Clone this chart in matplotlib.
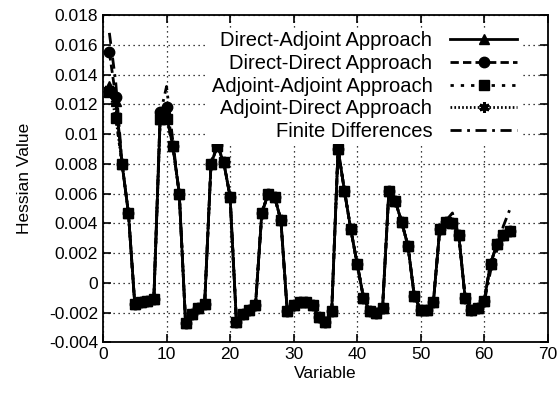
import numpy as np
import matplotlib
matplotlib.use('Agg')
import matplotlib.pyplot as plt
from matplotlib.ticker import FixedLocator, FixedFormatter

plt.rcParams['font.family'] = ['Liberation Sans', 'DejaVu Sans']
plt.rcParams['font.size'] = 12.5

variables = np.arange(1, 65)

direct_adjoint = [
    0.0132, 0.0122, 0.0080, 0.0047, -0.0014, -0.0013, -0.0012, -0.0011,
    0.0110, 0.0112, 0.0092, 0.0060, -0.0027, -0.0021, -0.0017, -0.0014,
    0.0080, 0.0092, 0.0081, 0.0058, -0.0026, -0.0021, -0.0018, -0.0015,
    0.0047, 0.0060, 0.0058, 0.0042, -0.0019, -0.0015, -0.0013, -0.0013,
    -0.0015, -0.0023, -0.0026, -0.0019, 0.0090, 0.0062, 0.0036, 0.0013,
    -0.0010, -0.0019, -0.0020, -0.0017, 0.0062, 0.0055, 0.0041, 0.0025,
    -0.0009, -0.0018, -0.0018, -0.0013, 0.0036, 0.0041, 0.0040, 0.0032,
    -0.0010, -0.0018, -0.0017, -0.0012, 0.0013, 0.0026, 0.0032, 0.0035]

direct_direct = [
    0.0155, 0.0125, 0.0080, 0.0047, -0.0014, -0.0013, -0.0012, -0.0011,
    0.0115, 0.0118, 0.0092, 0.0060, -0.0027, -0.0021, -0.0017, -0.0014,
    0.0080, 0.0093, 0.0081, 0.0058, -0.0026, -0.0021, -0.0018, -0.0015,
    0.0047, 0.0060, 0.0058, 0.0042, -0.0019, -0.0015, -0.0013, -0.0013,
    -0.0015, -0.0023, -0.0026, -0.0019, 0.0090, 0.0062, 0.0036, 0.0013,
    -0.0010, -0.0019, -0.0020, -0.0017, 0.0062, 0.0055, 0.0041, 0.0025,
    -0.0009, -0.0018, -0.0018, -0.0013, 0.0036, 0.0041, 0.0040, 0.0032,
    -0.0010, -0.0018, -0.0017, -0.0012, 0.0013, 0.0026, 0.0032, 0.0035]

adjoint_adjoint = [
    0.0128, 0.0111, 0.0080, 0.0047, -0.0014, -0.0013, -0.0012, -0.0011,
    0.0110, 0.0110, 0.0092, 0.0060, -0.0027, -0.0021, -0.0017, -0.0014,
    0.0080, 0.0092, 0.0081, 0.0058, -0.0026, -0.0021, -0.0018, -0.0015,
    0.0047, 0.0060, 0.0058, 0.0042, -0.0019, -0.0015, -0.0013, -0.0013,
    -0.0015, -0.0023, -0.0026, -0.0019, 0.0090, 0.0062, 0.0036, 0.0013,
    -0.0010, -0.0019, -0.0020, -0.0017, 0.0062, 0.0055, 0.0041, 0.0025,
    -0.0009, -0.0018, -0.0018, -0.0013, 0.0036, 0.0041, 0.0040, 0.0032,
    -0.0010, -0.0018, -0.0017, -0.0012, 0.0013, 0.0026, 0.0032, 0.0035]

adjoint_direct = [
    0.0130, 0.0112, 0.0080, 0.0047, -0.0014, -0.0013, -0.0012, -0.0011,
    0.0110, 0.0111, 0.0092, 0.0060, -0.0027, -0.0021, -0.0017, -0.0014,
    0.0080, 0.0092, 0.0081, 0.0058, -0.0026, -0.0021, -0.0018, -0.0015,
    0.0047, 0.0060, 0.0058, 0.0042, -0.0019, -0.0015, -0.0013, -0.0013,
    -0.0015, -0.0023, -0.0026, -0.0019, 0.0090, 0.0062, 0.0036, 0.0013,
    -0.0010, -0.0019, -0.0020, -0.0017, 0.0062, 0.0055, 0.0041, 0.0025,
    -0.0009, -0.0018, -0.0018, -0.0013, 0.0036, 0.0041, 0.0040, 0.0032,
    -0.0010, -0.0018, -0.0017, -0.0012, 0.0013, 0.0026, 0.0032, 0.0035]

finite_diff = [
    0.0168, 0.0135, 0.0080, 0.0047, -0.0015, -0.0013, -0.0012, -0.0011,
    0.0113, 0.0132, 0.0095, 0.0060, -0.0027, -0.0021, -0.0017, -0.0014,
    0.0080, 0.0094, 0.0082, 0.0058, -0.0026, -0.0021, -0.0018, -0.0015,
    0.0047, 0.0060, 0.0059, 0.0042, -0.0019, -0.0015, -0.0013, -0.0013,
    -0.0015, -0.0023, -0.0026, -0.0019, 0.0090, 0.0062, 0.0036, 0.0013,
    -0.0010, -0.0019, -0.0020, -0.0017, 0.0062, 0.0056, 0.0041, 0.0025,
    -0.0009, -0.0018, -0.0018, -0.0013, 0.0036, 0.0042, 0.0047, 0.0032,
    -0.0010, -0.0018, -0.0017, -0.0013, 0.0008, 0.0022, 0.0038, 0.0049]

series = [
    ('Direct-Adjoint Approach', direct_adjoint, '-', '^'),
    ('Direct-Direct Approach', direct_direct, (0, (3, 1.5)), 'o'),
    ('Adjoint-Adjoint Approach', adjoint_adjoint, (0, (1.2, 2.5)), 's'),
    ('Adjoint-Direct Approach', adjoint_direct, (0, (0.6, 0.8)), (6, 2, 0)),
    ('Finite Differences', finite_diff, (0, (4, 2, 1, 2)), None),
]

yticks = [-0.004, -0.002, 0, 0.002, 0.004, 0.006, 0.008, 0.01, 0.012, 0.014, 0.016, 0.018]
ytick_labels = ['-0.004', '-0.002', '0', '0.002', '0.004', '0.006', '0.008',
                '0.01', '0.012', '0.014', '0.016', '0.018']
xticks = [0, 10, 20, 30, 40, 50, 60, 70]

fig = plt.figure(figsize=(5.58, 3.95), dpi=100)
ax = fig.add_axes([0.1846, 0.133, 0.797, 0.829])

for label, vals, ls, mk in series:
    ax.plot(variables, vals, color='black', linestyle=ls, linewidth=2,
            marker=mk, markersize=7.5 if mk != 's' else 6.5,
            markeredgewidth=2.2 if mk == (6, 2, 0) else 1,
            label=label)

ax.set_xlim(0, 70)
ax.set_ylim(-0.004, 0.018)
ax.xaxis.set_major_locator(FixedLocator(xticks))
ax.yaxis.set_major_locator(FixedLocator(yticks))
ax.yaxis.set_major_formatter(FixedFormatter(ytick_labels))
ax.tick_params(direction='in', length=6, width=1.2, top=True, right=True)
ax.grid(True, color='black', linestyle=(0, (1, 3)), linewidth=0.9)
for sp in ax.spines.values():
    sp.set_linewidth(1.3)

ax.set_xlabel('Variable', labelpad=3)
ax.set_ylabel('Hessian Value', labelpad=12)

leg = ax.legend(loc='upper right', bbox_to_anchor=(0.96, 0.99), markerfirst=False,
                handlelength=3.3, handletextpad=0.9, labelspacing=0.18,
                borderpad=0.15, fontsize=14.5, framealpha=1, fancybox=False)
leg.get_frame().set_edgecolor('none')
for t in leg.get_texts():
    t.set_ha('right')
leg._legend_box.align = 'right'

fig.savefig('out.png', dpi=100)
